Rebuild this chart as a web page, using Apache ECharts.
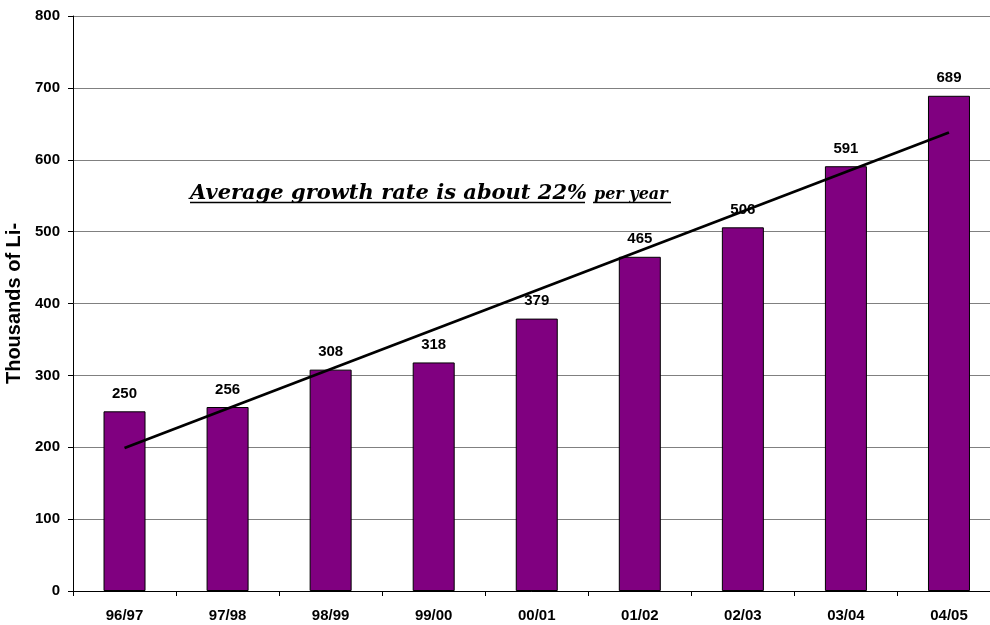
<!DOCTYPE html>
<html><head><meta charset="utf-8">
<script src="https://cdn.jsdelivr.net/npm/echarts@6/dist/echarts.min.js"></script>
<style>html,body{margin:0;padding:0;background:#fff;overflow:hidden}#c{width:990px;height:625px}</style>
</head><body><div id="c"></div>
<script>
var categories = ['96/97','97/98','98/99','99/00','00/01','01/02','02/03','03/04','04/05'];
var values = [250, 256, 308, 318, 379, 465, 506, 591, 689];
var trendValues = [199, null, null, null, null, null, null, null, 638];
var yTicks = {min: 0, max: 800, interval: 100};
var yName = 'Thousands of Li-';
var noteMain = 'Average growth rate is about 22%';
var noteSub = 'per year';

var chart = echarts.init(document.getElementById('c'), null, {renderer: 'canvas'});
chart.setOption({
  animation: false,
  backgroundColor: '#fff',
  grid: {left: 73, right: -10.5, top: 16, bottom: 34, containLabel: false, outerBoundsMode: 'none'},
  xAxis: {
    type: 'category', data: categories, boundaryGap: true,
    axisLine: {lineStyle: {color: '#000', width: 1}},
    axisTick: {show: true, length: 5, lineStyle: {color: '#000'}},
    axisLabel: {color: '#000', fontFamily: 'Liberation Sans, Arial', fontWeight: 'bold', fontSize: 15, margin: 17}
  },
  yAxis: {
    type: 'value', min: yTicks.min, max: yTicks.max, interval: yTicks.interval,
    name: yName, nameLocation: 'middle', nameGap: 41,
    nameTextStyle: {color: '#000', fontFamily: 'Liberation Sans, Arial', fontWeight: 'bold', fontSize: 20},
    axisLine: {show: true, lineStyle: {color: '#000', width: 1}},
    axisTick: {show: true, length: 5, lineStyle: {color: '#000'}},
    axisLabel: {color: '#000', fontFamily: 'Liberation Sans, Arial', fontWeight: 'bold', fontSize: 15, margin: 13},
    splitLine: {show: true, lineStyle: {color: '#808080', width: 1}}
  },
  series: [{
    type: 'bar', data: values, barWidth: 42,
    itemStyle: {color: '#800080', borderColor: '#000', borderWidth: 1},
    label: {show: true, position: 'top', distance: 10, color: '#000', fontFamily: 'Liberation Sans, Arial', fontWeight: 'bold', fontSize: 15}
  }, {
    type: 'line', data: trendValues, connectNulls: true, symbol: 'none',
    lineStyle: {color: '#000', width: 2.8}, z: 5
  }],
  graphic: [{
    type: 'text', left: 190, top: 183,
    style: {text: noteMain, font: 'italic bold 21px "DejaVu Serif", serif', fill: '#000'}
  }, {
    type: 'text', left: 594, top: 187,
    style: {text: noteSub, font: 'italic bold 16px "DejaVu Serif", serif', fill: '#000'}
  }, {
    type: 'line', shape: {x1: 190, y1: 202.5, x2: 585, y2: 202.5}, style: {stroke: '#000', lineWidth: 1.5}
  }, {
    type: 'line', shape: {x1: 593, y1: 202.5, x2: 671, y2: 202.5}, style: {stroke: '#000', lineWidth: 1.5}
  }]
});
</script></body></html>
